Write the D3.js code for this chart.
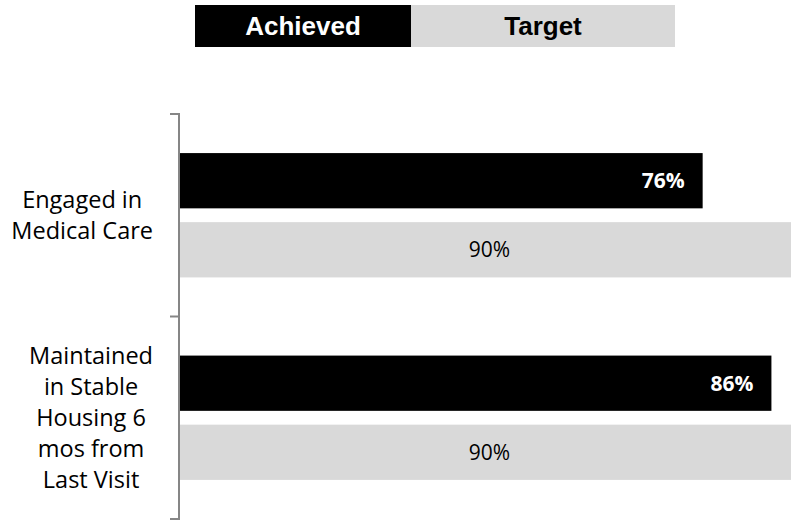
<!DOCTYPE html>
<meta charset="utf-8">
<style>
body { margin: 0; background: #fff; }
svg { display: block; }
.cat text { font-family: 'Open Sans', sans-serif; font-size: 23.5px; fill: #000; }
.val { font-family: 'Open Sans', sans-serif; font-size: 21px; }
.legend text { font-family: Arial, 'Liberation Sans', sans-serif; font-size: 26px; font-weight: bold; }
</style>
<svg width="791" height="521"></svg>
<script src="https://d3js.org/d3.v7.min.js"></script>
<script>
var categories = ["Engaged in Medical Care", "Maintained in Stable Housing 6 mos from Last Visit"];
var categoryLines = [["Engaged in", "Medical Care"], ["Maintained", "in Stable", "Housing 6", "mos from", "Last Visit"]];
var seriesNames = ["Achieved", "Target"];
var achieved = [76, 86];
var target = [90, 90];

var seriesColor = { Achieved: "#000000", Target: "#d9d9d9" };
var labelColor = { Achieved: "#ffffff", Target: "#000000" };

var svg = d3.select("svg");

var x = d3.scaleLinear().domain([0, 100]).range([180, 867.7]);

var y0 = d3.scaleBand()
	.domain(categories)
	.range([114, 519])
	.paddingInner(0.386)
	.paddingOuter(0.193);

var y1 = d3.scaleBand()
	.domain(seriesNames)
	.range([0, y0.bandwidth()])
	.paddingInner(0.2);

var rows = categories.map(function(c, i) {
	return { cat: c, lines: categoryLines[i], values: [
		{ name: "Achieved", v: achieved[i] },
		{ name: "Target", v: target[i] }
	] };
});

// bars
var groups = svg.append("g").selectAll("g")
	.data(rows)
	.enter().append("g")
	.attr("transform", function(d) { return "translate(0," + y0(d.cat) + ")"; });

groups.selectAll("rect")
	.data(function(d) { return d.values; })
	.enter().append("rect")
	.attr("x", x(0))
	.attr("y", function(d) { return y1(d.name); })
	.attr("width", function(d) { return x(d.v) - x(0); })
	.attr("height", y1.bandwidth())
	.attr("fill", function(d) { return seriesColor[d.name]; });

groups.selectAll("text.val")
	.data(function(d) { return d.values; })
	.enter().append("text")
	.attr("class", "val")
	.attr("x", function(d) {
		return d.name == "Achieved" ? x(d.v) - 18 : (x(0) + x(d.v)) / 2;
	})
	.attr("y", function(d) { return y1(d.name) + y1.bandwidth() / 2; })
	.attr("dy", "0.35em")
	.attr("text-anchor", function(d) { return d.name == "Achieved" ? "end" : "middle"; })
	.attr("font-weight", function(d) { return d.name == "Achieved" ? "bold" : "normal"; })
	.attr("fill", function(d) { return labelColor[d.name]; })
	.text(function(d) { return d.v + "%"; });

// category axis, ticks sit between the bands
var edges = categories.map(function(c) { return y0(c) - y0.step() * y0.paddingOuter(); });
edges.push(y0.range()[1]);

var axis = svg.append("g").attr("stroke", "#868686").attr("stroke-width", 2);
axis.append("line")
	.attr("x1", 179).attr("x2", 179)
	.attr("y1", edges[0]).attr("y2", edges[edges.length - 1]);
axis.selectAll("line.tick")
	.data(edges)
	.enter().append("line")
	.attr("class", "tick")
	.attr("x1", 170).attr("x2", 180)
	.attr("y1", function(d) { return d; })
	.attr("y2", function(d) { return d; });

// wrapped labels: block right-aligned at 153, lines centred inside it
var lineH = 31;
var cat = svg.append("g").attr("class", "cat")
	.selectAll("text")
	.data(rows)
	.enter().append("text")
	.attr("text-anchor", "middle");
cat.selectAll("tspan")
	.data(function(d) { return d.lines; })
	.enter().append("tspan")
	.attr("x", 0)
	.attr("y", function(d, i) { return i * lineH; })
	.attr("dy", "0.35em")
	.text(function(d) { return d; });
cat.attr("transform", function(d) {
	var w = d3.max(d3.select(this).selectAll("tspan").nodes(), function(n) { return n.getComputedTextLength(); });
	var cy = y0(d.cat) + y0.bandwidth() / 2 - (d.lines.length - 1) * lineH / 2;
	return "translate(" + (153 - w / 2) + "," + cy + ")";
});

// legend
var legW = { Achieved: 216, Target: 264 };
var leg = svg.append("g").attr("class", "legend");
var lx = 195;
seriesNames.forEach(function(s) {
	leg.append("rect").attr("x", lx).attr("y", 5).attr("width", legW[s]).attr("height", 42)
		.attr("fill", seriesColor[s]);
	leg.append("text").attr("x", lx + legW[s] / 2).attr("y", 26).attr("dy", "0.35em")
		.attr("text-anchor", "middle").attr("fill", labelColor[s]).text(s);
	lx += legW[s];
});
</script>
